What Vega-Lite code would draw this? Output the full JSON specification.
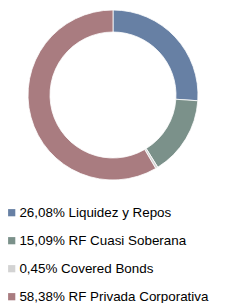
{
  "$schema": "https://vega.github.io/schema/vega-lite/v6.json",
  "width": 226,
  "height": 190,
  "padding": 0,
  "autosize": {"type": "pad"},
  "background": "#ffffff",
  "data": {
    "values": [
      {"order": 1, "label": "26,08% Liquidez y Repos", "value": 26.08},
      {"order": 2, "label": "15,09% RF Cuasi Soberana", "value": 15.09},
      {"order": 3, "label": "0,45% Covered Bonds", "value": 0.45},
      {"order": 4, "label": "58,38% RF Privada Corporativa", "value": 58.38}
    ]
  },
  "mark": {"type": "arc", "outerRadius": 85, "innerRadius": 63, "stroke": "#ffffff", "strokeWidth": 0.8},
  "encoding": {
    "theta": {"field": "value", "type": "quantitative", "stack": true},
    "order": {"field": "order", "type": "quantitative"},
    "color": {
      "field": "label",
      "type": "nominal",
      "scale": {
        "domain": ["26,08% Liquidez y Repos", "15,09% RF Cuasi Soberana", "0,45% Covered Bonds", "58,38% RF Privada Corporativa"],
        "range": ["#6780A4", "#7B918A", "#D3D3D3", "#A97C80"]
      },
      "legend": {
        "orient": "none",
        "legendX": 5,
        "legendY": 206,
        "title": null,
        "padding": 0,
        "symbolType": "square",
        "symbolSize": 52,
        "symbolStrokeWidth": 0,
        "labelFont": "Liberation Sans",
        "labelFontSize": 13.4,
        "labelColor": "#000000",
        "labelOffset": 1,
        "labelLimit": 300,
        "rowPadding": 13
      }
    }
  },
  "config": {"view": {"stroke": null}}
}
